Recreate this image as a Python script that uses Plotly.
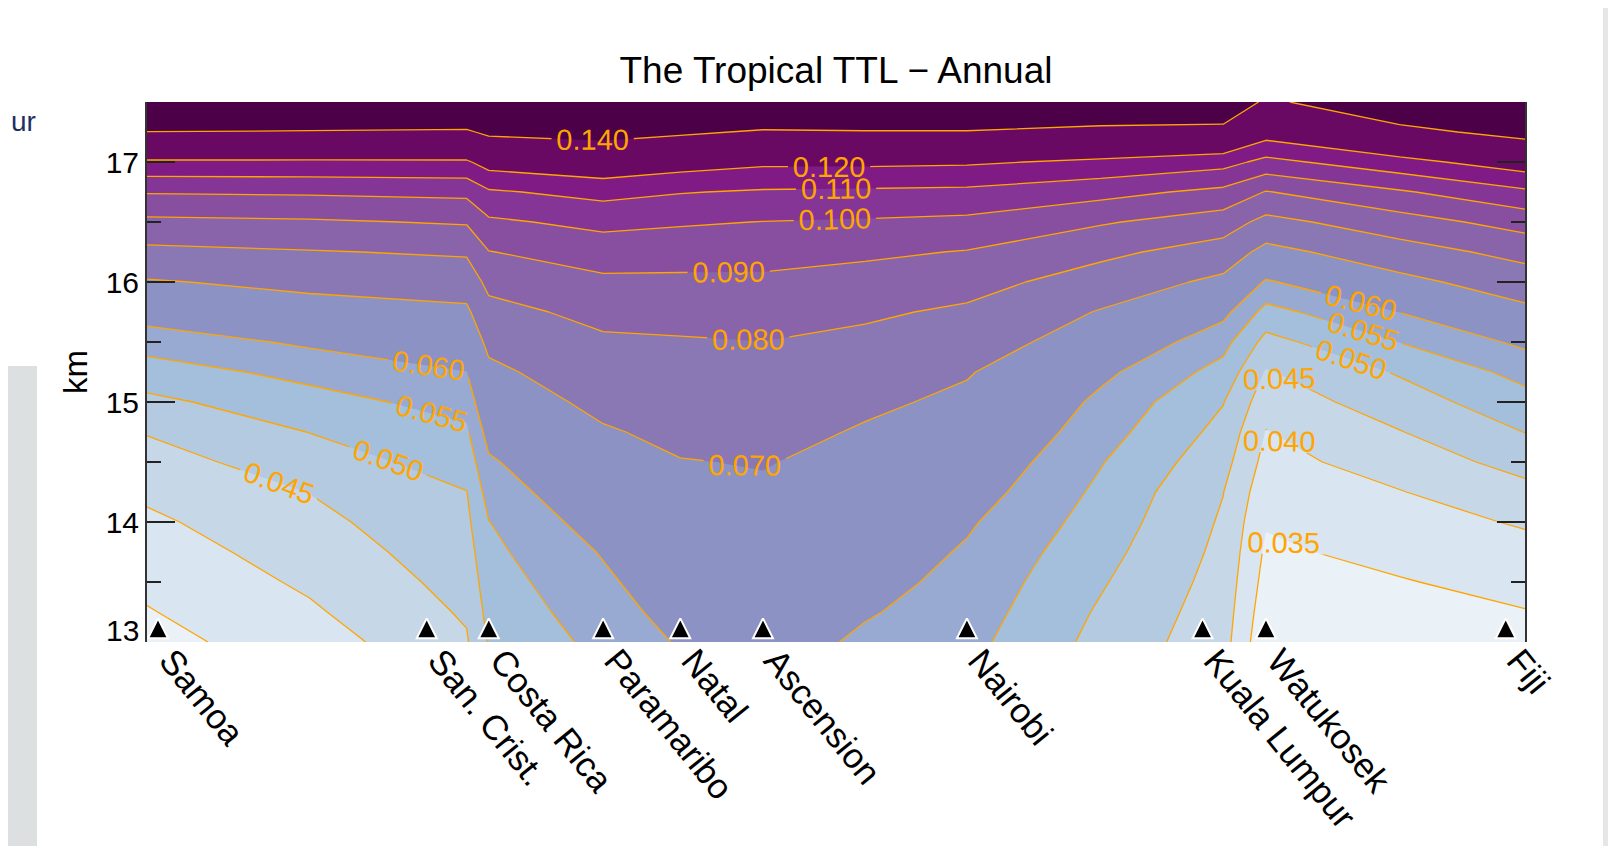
import plotly.graph_objects as go

# ---------------- data ----------------
stations = ["Samoa", "San. Crist.", "Costa Rica", "Paramaribo", "Natal",
            "Ascension", "Nairobi", "Kuala Lumpur", "Watukosek", "Fiji"]
station_x = [0.8, 20.3, 24.8, 33.1, 38.7, 44.7, 59.5, 76.6, 81.2, 98.6]

grid_x = [0, 11.8, 23.2, 24.8, 33.1, 38.7, 44.7, 52.1, 59.5, 69.2, 78.1, 81.2, 90.9, 100]
grid_km = [13.0, 13.25, 13.5, 13.75, 14.0, 14.25, 14.5, 14.75, 15.0, 15.25,
           15.5, 15.75, 16.0, 16.25, 16.5, 16.75, 17.0, 17.25, 17.5]

z_1300 = [0.0335, 0.0375, 0.0445, 0.0505, 0.0565, 0.0605, 0.0630, 0.0590, 0.0565, 0.0485, 0.0420, 0.0310, 0.0313, 0.0330]
z_1325 = [0.0347, 0.0393, 0.0456, 0.0516, 0.0578, 0.0620, 0.0642, 0.0605, 0.0575, 0.0494, 0.0426, 0.0321, 0.0330, 0.0348]
z_1350 = [0.0361, 0.0408, 0.0467, 0.0527, 0.0590, 0.0636, 0.0654, 0.0619, 0.0584, 0.0505, 0.0432, 0.0332, 0.0347, 0.0366]
z_1375 = [0.0376, 0.0422, 0.0478, 0.0538, 0.0604, 0.0651, 0.0666, 0.0634, 0.0594, 0.0517, 0.0438, 0.0342, 0.0364, 0.0385]
z_1400 = [0.0391, 0.0436, 0.0489, 0.0549, 0.0626, 0.0666, 0.0678, 0.0649, 0.0607, 0.0529, 0.0444, 0.0354, 0.0381, 0.0405]
z_1425 = [0.0409, 0.0451, 0.0499, 0.0570, 0.0648, 0.0682, 0.0690, 0.0663, 0.0626, 0.0540, 0.0451, 0.0369, 0.0398, 0.0435]
z_1450 = [0.0430, 0.0476, 0.0521, 0.0592, 0.0670, 0.0697, 0.0704, 0.0678, 0.0645, 0.0553, 0.0468, 0.0384, 0.0422, 0.0468]
z_1475 = [0.0453, 0.0501, 0.0542, 0.0620, 0.0692, 0.0719, 0.0728, 0.0692, 0.0665, 0.0571, 0.0485, 0.0398, 0.0448, 0.0501]
z_1500 = [0.0488, 0.0531, 0.0569, 0.0651, 0.0721, 0.0744, 0.0751, 0.0715, 0.0684, 0.0588, 0.0502, 0.0422, 0.0476, 0.0532]
z_1525 = [0.0527, 0.0565, 0.0599, 0.0681, 0.0753, 0.0768, 0.0775, 0.0747, 0.0706, 0.0613, 0.0532, 0.0446, 0.0505, 0.0566]
z_1550 = [0.0571, 0.0609, 0.0641, 0.0720, 0.0785, 0.0792, 0.0799, 0.0778, 0.0745, 0.0653, 0.0567, 0.0484, 0.0551, 0.0611]
z_1575 = [0.0626, 0.0663, 0.0684, 0.0769, 0.0828, 0.0833, 0.0840, 0.0815, 0.0784, 0.0694, 0.0615, 0.0533, 0.0601, 0.0678]
z_1600 = [0.0692, 0.0723, 0.0742, 0.0826, 0.0881, 0.0881, 0.0882, 0.0863, 0.0836, 0.0754, 0.0679, 0.0593, 0.0674, 0.0750]
z_1625 = [0.0776, 0.0794, 0.0812, 0.0897, 0.0947, 0.0941, 0.0935, 0.0917, 0.0895, 0.0823, 0.0755, 0.0671, 0.0757, 0.0832]
z_1650 = [0.0878, 0.0888, 0.0909, 0.0983, 0.1027, 0.1011, 0.0998, 0.0989, 0.0977, 0.0910, 0.0850, 0.0770, 0.0857, 0.0940]
z_1675 = [0.1007, 0.1013, 0.1025, 0.1087, 0.1132, 0.1105, 0.1089, 0.1084, 0.1078, 0.1033, 0.0974, 0.0895, 0.0988, 0.1081]
z_1700 = [0.1186, 0.1186, 0.1187, 0.1244, 0.1283, 0.1248, 0.1220, 0.1221, 0.1214, 0.1181, 0.1138, 0.1071, 0.1167, 0.1258]
z_1725 = [0.1398, 0.1392, 0.1384, 0.1425, 0.1448, 0.1419, 0.1387, 0.1393, 0.1393, 0.1363, 0.1358, 0.1249, 0.1362, 0.1444]
z_1750 = [0.1580, 0.1580, 0.1570, 0.1580, 0.1600, 0.1580, 0.1560, 0.1560, 0.1560, 0.1540, 0.1520, 0.1375, 0.1515, 0.1580]

levels = [0.035, 0.040, 0.045, 0.050, 0.055, 0.060, 0.070, 0.080, 0.090, 0.100, 0.110, 0.120, 0.140]
y_ticks = [13, 14, 15, 16, 17]
y_ticktext = ["", "14", "15", "16", "17"]

# ---------------- styles ----------------
band_colors = ["#D9E6F1", "#C6D7E8", "#B4CAE1", "#A3BFDB", "#98AAD1", "#8C93C4",
               "#8A78B5", "#8A64AA", "#884EA0", "#853595", "#801A84", "#690963", "#4C0047"]
lowest_color = "#EAF1F7"
line_color = "#FFA500"
FONT = "Liberation Sans, Arial, sans-serif"

Z = [z_1300, z_1325, z_1350, z_1375, z_1400, z_1425, z_1450, z_1475, z_1500, z_1525,
     z_1550, z_1575, z_1600, z_1625, z_1650, z_1675, z_1700, z_1725, z_1750]

fig = go.Figure()

# filled bands: each trace shades the region above one level
for lv, col in zip(levels, band_colors):
    fig.add_trace(go.Contour(
        x=grid_x, y=grid_km, z=Z,
        contours=dict(type="constraint", operation="<", value=lv),
        fillcolor=col, line=dict(width=0, smoothing=0),
        showscale=False, showlegend=False, hoverinfo="skip"))

# contour lines with labels
for lv in levels:
    fig.add_trace(go.Contour(
        x=grid_x, y=grid_km, z=Z, autocontour=False,
        contours=dict(coloring="none", start=lv, end=lv, size=0.001,
                      showlabels=True, labelformat=".3f",
                      labelfont=dict(family=FONT, size=29, color=line_color)),
        line=dict(color=line_color, width=1.3, smoothing=0),
        showscale=False, showlegend=False, hoverinfo="skip"))

# station markers
fig.add_trace(go.Scatter(
    x=station_x, y=[13.197] * len(station_x), mode="markers",
    marker=dict(symbol="arrow-up", size=20, color="black",
                line=dict(color="white", width=2)),
    cliponaxis=False, showlegend=False, hoverinfo="skip"))

fig.update_layout(
    width=1600, height=838, autosize=False,
    margin=dict(l=139, r=83, t=94, b=204),
    paper_bgcolor="white", plot_bgcolor=lowest_color,
    title=dict(text="The Tropical TTL \u2212 Annual", x=0.5, xref="paper",
               xanchor="center", y=1 - 62 / 838, yanchor="middle",
               font=dict(family=FONT, size=37, color="black")),
    xaxis=dict(range=[0, 100], tickvals=station_x, ticktext=stations,
               tickangle=51, ticks="", ticklabelstandoff=-10, ticklabelshift=13,
               tickfont=dict(family=FONT, size=35, color="black"),
               showgrid=False, zeroline=False, showline=False, automargin=False),
    yaxis=dict(range=[13, 17.5], tickvals=y_ticks, ticktext=y_ticktext,
               ticks="inside", ticklen=28, tickwidth=1.5, tickcolor="#222",
               minor=dict(dtick=0.5, ticks="inside", ticklen=14, tickwidth=1.5,
                          tickcolor="#222"),
               showline=True, linecolor="#333", linewidth=2, mirror="ticks",
               tickfont=dict(family=FONT, size=30, color="black"),
               showgrid=False, zeroline=False, automargin=False),
    shapes=[
        dict(type="rect", xref="paper", yref="paper", x0=-0.1009, x1=-0.0798,
             y0=-0.378, y1=0.511, fillcolor="#DCE0E0", line=dict(width=0), layer="below"),
        dict(type="rect", xref="paper", yref="paper", x0=1.0566, x1=1.0602,
             y0=-0.378, y1=1.174, fillcolor="#E5E7E6", line=dict(width=0), layer="below"),
    ],
    annotations=[
        dict(text="km", xref="paper", yref="paper", x=-0.0522, y=0.5,
             xanchor="center", yanchor="middle", textangle=-90, showarrow=False,
             font=dict(family=FONT, size=33, color="black")),
        dict(text="13", xref="paper", yref="y", x=0, y=13.1, xanchor="right",
             yanchor="middle", xshift=-6, showarrow=False,
             font=dict(family=FONT, size=30, color="black")),
        dict(text="ur", xref="paper", yref="paper", x=-0.1005, y=0.963,
             xanchor="left", yanchor="middle", showarrow=False,
             font=dict(family=FONT, size=28, color="#1F2F5F")),
    ],
)

fig.write_html("out.html")
